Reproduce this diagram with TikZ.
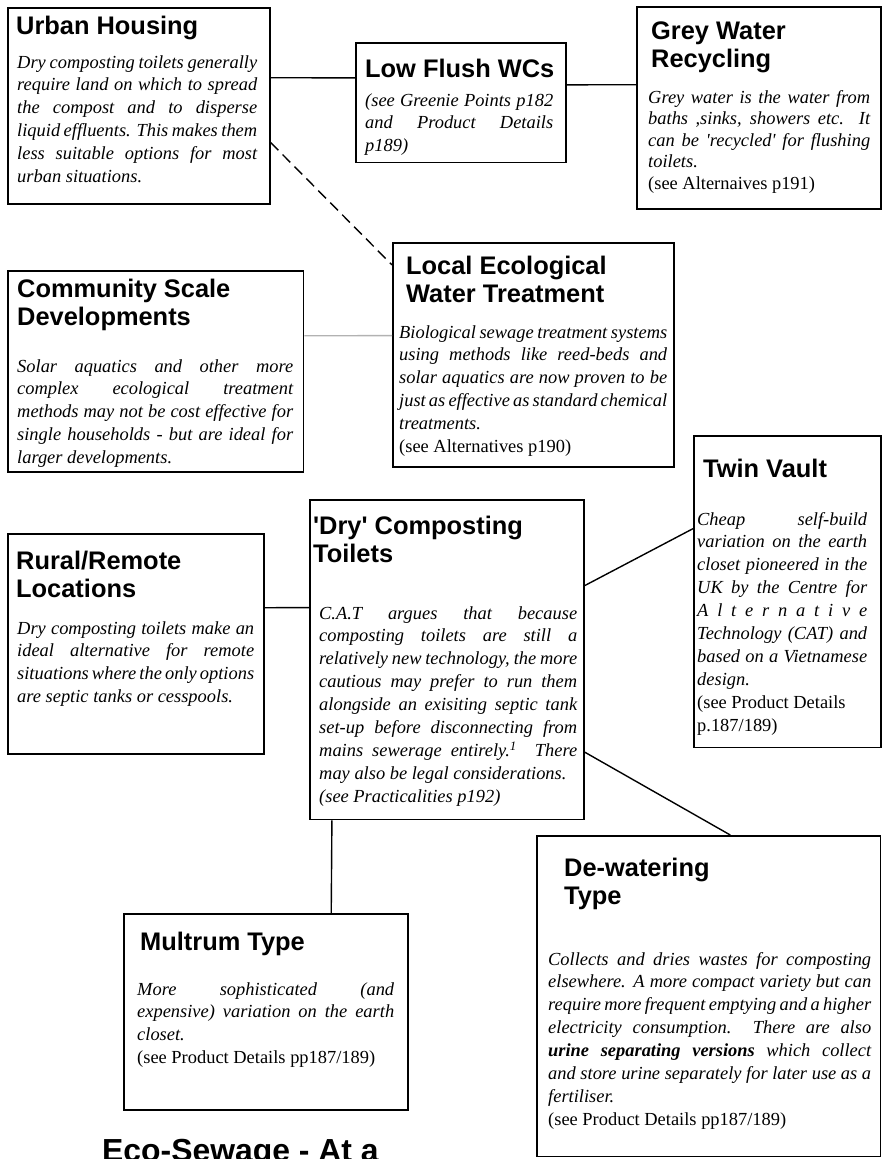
\documentclass[tikz,border=0pt]{standalone}
\usepackage{fontspec}
\setmainfont{Liberation Serif}
\newfontfamily\headfam{Liberation Sans}
\usepackage{tikz}
\newcommand{\headfont}{\headfam\bfseries\fontsize{25.5}{29}\selectfont}
\newcommand{\blurbfont}{\itshape\fontsize{18.5}{23}\selectfont\spaceskip=.25em plus .6em minus .15em\relax}
\tikzstyle{box}=[draw, line width=1.6pt, anchor=north west, inner sep=0pt]
\tikzstyle{head}=[anchor=base west, inner sep=0pt, font=\headfont]
\tikzstyle{blurb}=[anchor=base west, inner sep=0pt, font=\blurbfont]
\tikzstyle{link}=[line width=1.4pt]
\tikzstyle{dashlink}=[line width=1.4pt, dash pattern=on 11pt off 6pt]
\tikzstyle{greylink}=[line width=1.4pt, black!30]
\hfuzz=40pt \hbadness=10000 \tolerance=10000
\hyphenpenalty=10000 \exhyphenpenalty=10000

\begin{document}
\begin{tikzpicture}[x=1bp, y=-1bp]
        \useasboundingbox (0, 0) rectangle (883, 1159);
        \node[box, minimum width=263, minimum height=197] (urban) at (7, 7) {};
        \node[head] (urbanhead) at (16, 34) {Urban Housing};
        \node[blurb] (urbanblurb) at (17, 68) {\parbox[t]{240bp}{Dry composting toilets generally\linebreak
            require land on which to spread\linebreak the compost and to disperse\linebreak
            liquid effluents. This makes them\linebreak less suitable options for most\linebreak
            urban situations.}};

        \node[box, minimum width=211, minimum height=120] (lowflush) at (355, 42) {};
        \node[head] (lowflushhead) at (365, 77) {Low Flush WCs};
        \node[blurb] (lowflushblurb) at (365, 106) {\parbox[t]{188bp}{(see Greenie Points p182\linebreak
            and Product Details\linebreak p189)}};

        \node[box, minimum width=245, minimum height=203] (grey) at (636, 6) {};
        \node[head] (greyhead) at (651, 39) {\parbox[t]{220bp}{Grey Water\\Recycling}};
        \node[blurb] (greyblurb) at (648, 103) {\parbox[t]{222bp}{\baselineskip=21.5bp
            Grey water is the water from\linebreak baths ,sinks, showers etc.\ \ It\linebreak
            can be \textquotesingle recycled\textquotesingle\ for flushing\linebreak toilets.\\\upshape(see Alternaives p191)}};

        \node[box, minimum width=282, minimum height=225] (localeco) at (392, 242) {};
        \node[head] (localecohead) at (406, 274) {\parbox[t]{260bp}{Local Ecological\\Water Treatment}};
        \node[blurb] (localecoblurb) at (399, 338) {\parbox[t]{268bp}{Biological sewage treatment systems\linebreak
            using methods like reed-beds and\linebreak solar aquatics are now proven to be\linebreak
            just as effective as standard chemical\linebreak treatments.\\\upshape(see Alternatives p190)}};

        \node[box, minimum width=297, minimum height=202] (community) at (7, 270) {};
        \node[head] (communityhead) at (17, 297) {\parbox[t]{280bp}{Community Scale\\Developments}};
        \node[blurb] (communityblurb) at (17, 372) {\parbox[t]{276bp}{Solar aquatics and other more\linebreak
            complex ecological treatment\linebreak methods may not be cost effective for\linebreak
            single households - but are ideal for\linebreak larger developments.}};

        \node[box, minimum width=257, minimum height=221] (rural) at (7, 533) {};
        \node[head] (ruralhead) at (16, 569) {\parbox[t]{240bp}{Rural/Remote\\Locations}};
        \node[blurb] (ruralblurb) at (17, 634) {\parbox[t]{237bp}{Dry composting toilets make an\linebreak
            ideal alternative for remote\linebreak situations where the only options\linebreak
            are septic tanks or cesspools.}};

        \node[box, minimum width=275, minimum height=321] (dry) at (309, 499) {};
        \node[head] (dryhead) at (313, 534) {\parbox[t]{265bp}{'Dry' Composting\\Toilets}};
        \node[blurb] (dryblurb) at (319, 619) {\parbox[t]{258bp}{C.A.T argues that because\linebreak
            composting toilets are still a\linebreak relatively new technology, the more\linebreak
            cautious may prefer to run them\linebreak alongside an exisiting septic tank\linebreak
            set-up before disconnecting from\linebreak mains sewerage entirely.\textsuperscript{1}\ \ There\linebreak
            may also be legal considerations.\\(see Practicalities p192)}};

        \node[box, minimum width=188, minimum height=313] (twin) at (693, 435) {};
        \node[head] (twinhead) at (703, 477) {Twin Vault};
        \node[blurb] (twinblurb) at (697, 525) {\parbox[t]{170bp}{Cheap self-build\linebreak
            variation on the earth\linebreak closet pioneered in the\linebreak UK by the Centre for\linebreak
            A l t e r n a t i v e\linebreak Technology (CAT) and\linebreak based on a Vietnamese\linebreak
            design.\\\upshape(see Product Details\\p.187/189)}};

        \node[box, minimum width=285, minimum height=197] (multrum) at (123, 913) {};
        \node[head] (multrumhead) at (140, 950) {Multrum Type};
        \node[blurb] (multrumblurb) at (137, 995) {\parbox[t]{257bp}{More sophisticated (and\linebreak
            expensive) variation on the earth\linebreak closet.\\\upshape(see Product Details pp187/189)}};

        \node[box, minimum width=345, minimum height=322] (dewater) at (536, 835) {};
        \node[head] (dewaterhead) at (564, 876) {\parbox[t]{280bp}{De-watering\\Type}};
        \node[blurb] (dewaterblurb) at (548, 965) {\parbox[t]{323bp}{Collects and dries wastes for composting\linebreak
            elsewhere. A more compact variety but can\linebreak require more frequent emptying and a higher\linebreak
            electricity consumption.\ \ There are also\linebreak \textbf{urine separating versions} which collect\linebreak
            and store urine separately for later use as a\linebreak fertiliser.\\\upshape(see Product Details pp187/189)}};

        \node[anchor=base west, inner sep=0pt, font=\headfam\bfseries\fontsize{32}{38}\selectfont] (pagetitle)
            at (102, 1161) {Eco-Sewage - At a};

        \draw[link] ([yshift=-71]urban.north east) -- ([yshift=-36]lowflush.north west);
        \draw[link] ([yshift=-43]lowflush.north east) -- ([yshift=-79]grey.north west);
        \draw[dashlink] ([yshift=-136]urban.north east) -- ([yshift=-23]localeco.north west);
        \draw[greylink] ([yshift=-66]community.north east) -- ([yshift=-94]localeco.north west);
        \draw[link] ([yshift=-75]rural.north east) -- ([yshift=-109]dry.north west);
        \draw[link] ([yshift=-87]dry.north east) -- ([yshift=-94]twin.north west);
        \draw[link] ([yshift=-254]dry.north east) -- ([xshift=195]dewater.north west);
        \draw[link] ([xshift=23]dry.south west) -- ([xshift=209]multrum.north west);
    \end{tikzpicture}
\end{document}
